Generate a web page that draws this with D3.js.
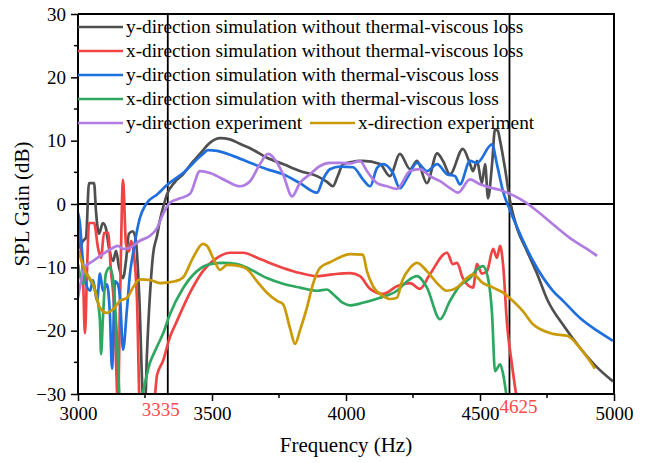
<!DOCTYPE html>
<html>
<head>
<meta charset="utf-8">
<script src="https://cdn.jsdelivr.net/npm/d3@7/dist/d3.min.js"></script>
<style>
  body { margin: 0; background: #fff; }
  svg { display: block; font-family: "Liberation Serif", "Times New Roman", serif; }
</style>
</head>
<body>
<svg id="chart" width="646" height="463"></svg>
<script>
/*
Data
*/

// [frequency Hz, SPL gain dB]
var ySimNoLoss = [
  [3000,-3.8],[3004,-6.9],[3019,-5.8],[3030,-5.3],[3041,3.3],[3060,3.3],[3067,-1.1],[3078,-4.7],
  [3093,-3],[3104,-3.8],[3116,-7],[3131,-9],[3142,-7.4],[3153,-10],[3168,-11.7],[3179,-9],
  [3190,-4.7],[3205,-4.3],[3216,-5.8],[3228,-14],[3243,-31],[3250,-32],[3257,-24],[3269,-14],
  [3280,-8],[3295,-5],[3306,-2.5],[3321,0],[3332,1.5],[3362,3.5],[3392,4.7],[3425,6.5],
  [3455,7.9],[3493,9.7],[3530,10.4],[3567,10.2],[3604,9.5],[3642,8.8],[3705,7.3],[3765,6.3],
  [3828,5.2],[3892,4.4],[3929,3.5],[3951,2.8],[3970,4.5],[3989,6.3],[4015,6.6],[4063,6.8],
  [4127,6.3],[4164,4.4],[4201,7.9],[4239,5.5],[4265,6.8],[4302,3.3],[4340,8],[4362,6.8],
  [4388,4.7],[4436,8.7],[4463,6.3],[4474,5.2],[4489,6.8],[4507,3.3],[4519,6.3],[4530,0.9],
  [4545,6.3],[4556,11.8],[4567,11.5],[4575,10],[4593,5.7],[4612,0.5],[4638,-3.8],[4675,-7.4],
  [4713,-11],[4750,-15],[4817,-19.5],[4873,-22.7],[4937,-25.8],[4996,-28]
];

var xSimNoLoss = [
  [3000,-4.5],[3007,-5.4],[3019,-12],[3026,-20.4],[3034,-10],[3041,-3],[3060,-3],[3075,-7],
  [3086,-8.5],[3097,-4.6],[3112,-4.5],[3123,-10.6],[3134,-15.8],[3142,-25],[3149,-32],[3157,-15],
  [3168,3.8],[3179,-6.3],[3190,-7.5],[3198,-5.8],[3209,-8],[3220,-15],[3231,-32],
  [3284,-31],[3295,-27],[3317,-24.8],[3343,-21],[3369,-18.5],[3418,-14],[3466,-10.6],[3519,-8.5],
  [3567,-7.7],[3616,-7.7],[3679,-8.7],[3765,-10.1],[3828,-10.9],[3892,-11.4],[3951,-11.1],
  [4015,-10.9],[4052,-11.4],[4090,-13.4],[4138,-14.2],[4190,-13],[4239,-12.5],[4276,-13.4],
  [4313,-11.1],[4377,-7.7],[4399,-9.5],[4414,-9.3],[4436,-11.7],[4474,-13.2],[4489,-9.5],
  [4507,-11],[4526,-10.6],[4549,-7.1],[4563,-8.5],[4575,-6.6],[4586,-9.5],[4601,-19],
  [4619,-25.3],[4638,-31]
];

var ySimLoss = [
  [3000,-1.4],[3007,-3],[3015,-7.4],[3026,-12],[3045,-13.7],[3056,-12],[3071,-15.3],[3082,-11],
  [3093,-13.7],[3108,-12.7],[3119,-17.4],[3127,-26],[3138,-12.2],[3149,-12.7],[3157,-15],
  [3168,-23],[3183,-16.4],[3194,-11],[3205,-7.9],[3231,-2.2],[3254,0],[3295,1.5],[3332,3],
  [3392,4.9],[3466,7.9],[3485,8.5],[3519,8.4],[3578,7.6],[3642,6.5],[3705,5.5],[3765,4.7],
  [3828,3.3],[3892,1.8],[3914,3.9],[3940,5.5],[3978,5.9],[4026,5.8],[4063,3.9],[4090,2.8],
  [4116,5.7],[4138,6.3],[4175,4.9],[4201,2.5],[4228,4.1],[4265,6.5],[4302,5.2],[4340,6.3],
  [4377,4.7],[4407,4.4],[4425,3.1],[4463,6.8],[4489,6.5],[4545,9.4],[4563,6.3],[4586,2],
  [4612,-1],[4649,-4.7],[4698,-9],[4772,-13.7],[4810,-15.3],[4873,-18],[4937,-20],[4996,-21.6]
];

var xSimLoss = [
  [3000,-9.5],[3019,-12.6],[3030,-11],[3045,-12],[3071,-14.8],[3082,-18.5],[3086,-23.7],
  [3093,-18],[3104,-11],[3119,-10],[3131,-12],[3146,-21.6],[3157,-31],
  [3228,-31],[3269,-25],[3295,-22.5],[3317,-20.5],[3343,-17.4],[3392,-13.3],[3444,-10.6],
  [3493,-9.5],[3541,-9.3],[3593,-9.5],[3642,-10.3],[3705,-11.7],[3765,-12.6],[3828,-13.2],
  [3892,-13.7],[3929,-13.5],[3951,-14.2],[3989,-15.6],[4015,-16],[4063,-15.6],[4127,-14.8],
  [4190,-13.7],[4228,-12.2],[4265,-11.4],[4302,-13.2],[4351,-18.2],[4388,-15.3],[4425,-12.9],
  [4463,-11.7],[4489,-10.3],[4511,-9.8],[4530,-11.7],[4545,-17.4],[4556,-26.4],[4575,-25.3],
  [4586,-26.8],[4601,-31]
];

var yExp = [
  [3000,-14.8],[3026,-10],[3056,-9],[3093,-7.9],[3131,-6.9],[3149,-6.6],[3168,-7.1],[3194,-6.9],
  [3231,-5.8],[3269,-5],[3295,-3.8],[3317,-1.6],[3343,0.2],[3381,0.9],[3418,1.6],[3455,5.2],
  [3493,4.9],[3519,4.4],[3556,3.6],[3604,2.8],[3642,3.6],[3679,6.3],[3709,7.9],[3743,6.5],
  [3765,4.7],[3799,1.2],[3828,3.3],[3866,4.7],[3903,6],[3940,6.5],[3978,6.5],[4015,6.4],
  [4052,6.8],[4078,5.2],[4116,3.3],[4153,2.8],[4190,2.4],[4239,5.2],[4276,5.5],[4313,4.4],
  [4351,3.6],[4388,2.5],[4418,1.8],[4463,3.9],[4500,3.1],[4537,2.6],[4575,2.2],[4612,1.6],
  [4649,0.8],[4713,-1.1],[4772,-3.2],[4836,-5.4],[4899,-7.1],[4937,-8.2]
];

var xExp = [
  [3000,-7.1],[3026,-10.6],[3056,-12.6],[3082,-16.4],[3108,-17.2],[3131,-16.6],[3157,-15.3],
  [3183,-14.8],[3205,-13.2],[3231,-11.9],[3269,-12],[3306,-12.5],[3332,-12.4],[3362,-12.2],
  [3392,-11.6],[3429,-8.5],[3466,-6.3],[3481,-6.6],[3504,-8.5],[3530,-10.4],[3556,-9.6],
  [3604,-9.8],[3631,-10.3],[3668,-12.2],[3705,-14],[3743,-15.3],[3765,-15.8],[3791,-19.6],
  [3810,-22.1],[3828,-20],[3854,-16.4],[3877,-12.6],[3903,-10.1],[3940,-9.2],[3978,-8.4],
  [4015,-7.9],[4063,-8],[4078,-10.6],[4101,-13],[4138,-14.5],[4164,-15],[4190,-14.8],
  [4209,-12.2],[4239,-10.1],[4265,-9.3],[4302,-10.6],[4340,-12.5],[4377,-13.7],[4414,-13.2],
  [4451,-11.7],[4474,-11.1],[4511,-12.5],[4549,-13.2],[4586,-14],[4623,-15.3],[4660,-16.9],
  [4698,-19],[4772,-20.5],[4825,-20.8],[4873,-22.7],[4910,-24.8],[4929,-26]
];

var seriesNames = [
  "y-direction simulation without thermal-viscous loss",
  "x-direction simulation without thermal-viscous loss",
  "y-direction simulation with thermal-viscous loss",
  "x-direction simulation with thermal-viscous loss",
  "y-direction experiment",
  "x-direction experiment"
];
var seriesData = [ySimNoLoss, xSimNoLoss, ySimLoss, xSimLoss, yExp, xExp];
var seriesColors = ["#4f4f4f", "#f04444", "#1f6fde", "#2ea760", "#b07ce2", "#c99a06"];

var xTicks = [3000, 3500, 4000, 4500, 5000];
var xMinor = [3250, 3750, 4250, 4750];
var yTicks = [-30, -20, -10, 0, 10, 20, 30];
var yMinor = [-25, -15, -5, 5, 15, 25];

// marker lines: position, text as printed
var markerFreqs = [3335, 4610];
var markerLabels = ["3335", "4625"];

/*
Layout
*/

var margin = { left: 78, top: 14, right: 32, bottom: 69 };
var W = 646, H = 463;
var iw = W - margin.left - margin.right;
var ih = H - margin.top - margin.bottom;

var svg = d3.select("#chart");
var g = svg.append("g").attr("transform", "translate(" + margin.left + "," + margin.top + ")");

var x = d3.scaleLinear().domain([3000, 5000]).range([0, iw]);
var y = d3.scaleLinear().domain([-30, 30]).range([ih, 0]);

svg.append("defs").append("clipPath").attr("id", "clip")
  .append("rect").attr("x", 0).attr("y", 0).attr("width", iw).attr("height", ih);

// zero line and marker lines
g.append("line")
  .attr("x1", 0).attr("x2", iw).attr("y1", y(0)).attr("y2", y(0))
  .attr("stroke", "#000").attr("stroke-width", 1.8);

g.selectAll(".marker")
  .data(markerFreqs)
  .enter().append("line")
  .attr("class", "marker")
  .attr("x1", d => x(d)).attr("x2", d => x(d))
  .attr("y1", 0).attr("y2", ih)
  .attr("stroke", "#000").attr("stroke-width", 1.8);

// curves
var line = d3.line()
  .x(d => x(d[0]))
  .y(d => y(d[1]))
  .curve(d3.curveMonotoneX);

var plot = g.append("g").attr("clip-path", "url(#clip)");
plot.selectAll(".curve")
  .data(seriesData)
  .enter().append("path")
  .attr("class", "curve")
  .attr("d", line)
  .attr("fill", "none")
  .attr("stroke", (d, i) => seriesColors[i])
  .attr("stroke-width", 2.7)
  .attr("stroke-linejoin", "round");

/*
Axes
*/

var xAxis = g.append("g")
  .attr("transform", "translate(0," + ih + ")")
  .call(d3.axisBottom(x).tickValues(xTicks).tickSize(7).tickPadding(6).tickFormat(d3.format("d")));
xAxis.append("g").selectAll("line")
  .data(xMinor).enter().append("line")
  .attr("x1", d => x(d)).attr("x2", d => x(d)).attr("y1", 0).attr("y2", 4)
  .attr("stroke", "#000").attr("stroke-width", 1.5);

var yAxis = g.append("g")
  .call(d3.axisLeft(y).tickValues(yTicks).tickSize(7).tickPadding(5));
yAxis.append("g").selectAll("line")
  .data(yMinor).enter().append("line")
  .attr("y1", d => y(d)).attr("y2", d => y(d)).attr("x1", 0).attr("x2", -4)
  .attr("stroke", "#000").attr("stroke-width", 1.5);

[xAxis, yAxis].forEach(function (a) {
  a.select(".domain").attr("stroke", "#000").attr("stroke-width", 2);
  a.selectAll(".tick line").attr("stroke", "#000").attr("stroke-width", 1.5);
  a.selectAll("text").attr("font-size", 19).attr("fill", "#000")
    .attr("font-family", "Liberation Serif, serif");
});
xAxis.select(".domain").attr("d", "M0,0H" + iw);
yAxis.select(".domain").attr("d", "M0," + ih + "V0");

// top and right frame
g.append("path")
  .attr("d", "M0,0H" + iw + "V" + ih)
  .attr("fill", "none").attr("stroke", "#000").attr("stroke-width", 2);

// marker labels
g.selectAll(".mlabel")
  .data(markerFreqs)
  .enter().append("text")
  .attr("class", "mlabel")
  .attr("x", (d, i) => x(d) + (i === 0 ? -7 : 9))
  .attr("y", (d, i) => ih + (i === 0 ? 22 : 19))
  .attr("text-anchor", "middle")
  .attr("font-size", 19)
  .attr("fill", "#ff4a4a")
  .text((d, i) => markerLabels[i]);

// axis titles
svg.append("text")
  .attr("x", margin.left + iw / 2).attr("y", 452)
  .attr("text-anchor", "middle").attr("font-size", 21)
  .text("Frequency (Hz)");

svg.append("text")
  .attr("transform", "translate(29," + (margin.top + ih / 2) + ") rotate(-90)")
  .attr("text-anchor", "middle").attr("font-size", 21)
  .text("SPL Gain (dB)");

/*
Legend
*/

var legendPos = [[0, 13], [0, 37], [0, 61], [0, 85], [0, 109], [232, 109]];
var legend = g.selectAll(".legend")
  .data(seriesNames)
  .enter().append("g")
  .attr("class", "legend")
  .attr("transform", (d, i) => "translate(" + legendPos[i][0] + "," + legendPos[i][1] + ")");

legend.append("line")
  .attr("x1", 0).attr("x2", 45).attr("y1", 0).attr("y2", 0)
  .attr("stroke", (d, i) => seriesColors[i]).attr("stroke-width", 2.7);

legend.append("text")
  .attr("x", 48).attr("y", 0).attr("dy", "0.33em")
  .attr("font-size", 19.3)
  .text(d => d);
</script>
</body>
</html>
